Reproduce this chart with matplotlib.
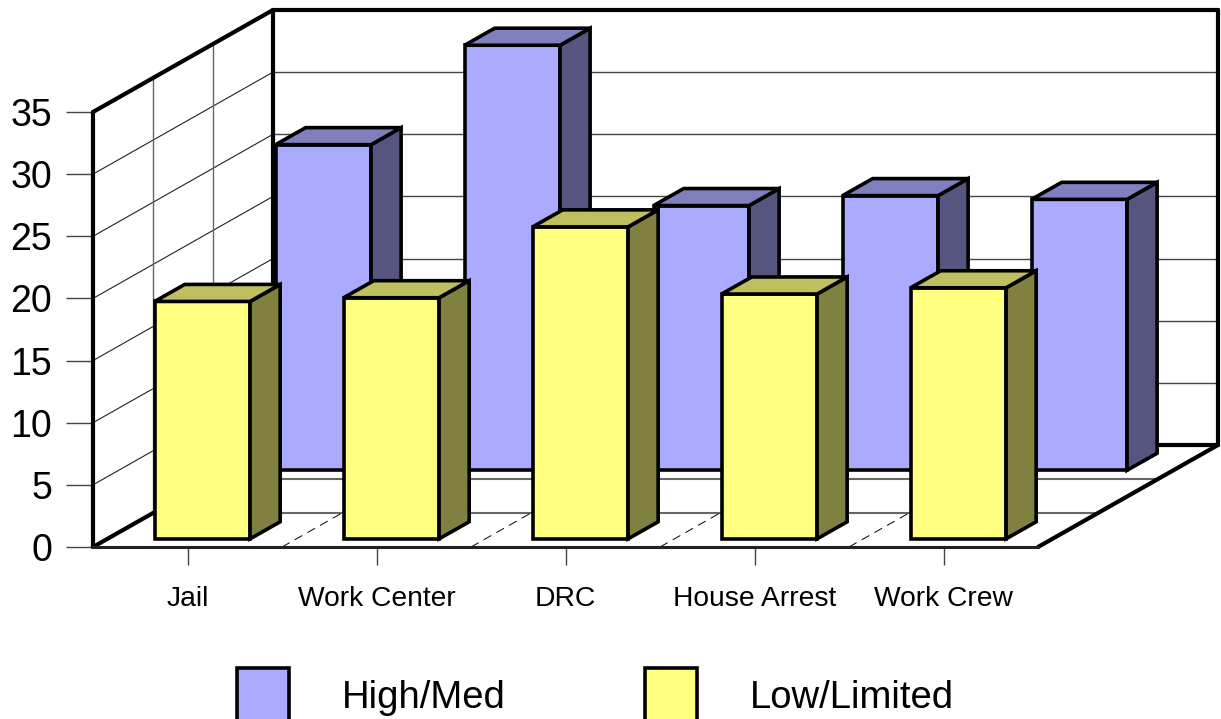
import matplotlib
matplotlib.use("Agg")
import matplotlib.pyplot as plt
from matplotlib.patches import Polygon, Patch, Rectangle
from matplotlib.legend_handler import HandlerPatch

plt.rcParams['font.family'] = ['Liberation Sans', 'DejaVu Sans']

categories = ["Jail", "Work Center", "DRC", "House Arrest", "Work Crew"]
high_med = [26.2, 34.2, 21.3, 22.1, 21.8]
low_limited = [19.1, 19.4, 25.1, 19.7, 20.2]
value_ticks = [0, 5, 10, 15, 20, 25, 30, 35]

W, H = 1221, 719
X0, X1, Y0, Y35 = 93, 1038, 547, 112
DEPTH_PX = (180, -102)

fig = plt.figure(figsize=(W / 100, H / 100), dpi=100, facecolor="white")
ax = fig.add_axes([X0 / W, 1 - Y0 / H, (X1 - X0) / W, (Y0 - Y35) / H])
ax.set_xlim(0, len(categories))
ax.set_ylim(0, 35)
ax.patch.set_visible(False)

# Oblique projection: depth 0 is the front plane, depth 1 the back wall.
cat_px = (X1 - X0) / len(categories)
val_px = (Y0 - Y35) / 35
dx = DEPTH_PX[0] / cat_px
dv = -DEPTH_PX[1] / val_px


def proj(x, v, d=0.0):
    return x + d * dx, v + d * dv


def line3d(p, q, **kw):
    a, b = proj(*p), proj(*q)
    ax.plot([a[0], b[0]], [a[1], b[1]], clip_on=False, solid_capstyle="round", **kw)


n = len(categories)
TOP = 35
thin = dict(color="#222222", lw=0.8, zorder=1)
heavy = dict(color="black", lw=3.0, zorder=2)

# Wall and floor gridlines
for v in value_ticks[1:]:
    line3d((0, v, 0), (0, v, 1), **thin)
    line3d((0, v, 1), (n, v, 1), color="#444444", lw=1.0, zorder=1)
for d in (1 / 3, 2 / 3):
    line3d((0, 0, d), (0, TOP, d), color="#666666", lw=1.0, zorder=1)
    line3d((0, 0, d), (n, 0, d), color="#666666", lw=1.5, zorder=1)
for k in range(1, n):
    a, b = proj(k, 0, 0), proj(k, 0, 1)
    ax.plot([a[0], b[0]], [a[1], b[1]], color="black", lw=0.7, dashes=(9, 6), zorder=1, clip_on=False)

# Wall and floor outline
line3d((0, 0, 0), (0, TOP, 0), **heavy)
line3d((0, 0, 0), (0, 0, 1), **heavy)
line3d((0, 0, 1), (0, TOP, 1), **heavy)
line3d((0, TOP, 0), (0, TOP, 1), **heavy)
line3d((0, TOP, 1), (n, TOP, 1), **heavy)
line3d((n, 0, 1), (n, TOP, 1), **heavy)
line3d((0, 0, 1), (n, 0, 1), **heavy)
line3d((n, 0, 0), (n, 0, 1), **heavy)
line3d((0, 0, 0), (n, 0, 0), color="#222222", lw=2.2, zorder=2)


def bar3d(center, value, depth, colors, z):
    front, side, top = colors
    half, thick = 0.2525, 0.167
    l, r = center - half + 0.0025, center + half + 0.0025
    d0, d1 = depth, depth + thick
    faces = [
        ([(l, 0, d0), (r, 0, d0), (r, value, d0), (l, value, d0)], front),
        ([(r, 0, d0), (r, 0, d1), (r, value, d1), (r, value, d0)], side),
        ([(l, value, d0), (r, value, d0), (r, value, d1), (l, value, d1)], top),
    ]
    for pts, col in faces:
        ax.add_patch(Polygon([proj(*p) for p in pts], closed=True, facecolor=col,
                             edgecolor="black", lw=2.6, joinstyle="miter",
                             zorder=z, clip_on=False))


BLUE = ("#AAAAFF", "#555580", "#8080BF")
YELLOW = ("#FFFF80", "#808040", "#BFBF60")
for i, v in enumerate(high_med):
    bar3d(i + 0.5, v, 0.752, BLUE, 3 + i * 0.01)
for i, v in enumerate(low_limited):
    bar3d(i + 0.5, v, 0.08, YELLOW, 4 + i * 0.01)

# Axes furniture
for s in ax.spines.values():
    s.set_visible(False)
ax.set_xticks([i + 0.5 for i in range(n)], categories, fontsize=20.3)
ax.set_yticks(value_ticks, [str(v) for v in value_ticks], fontsize=27)
ax.tick_params(axis="x", length=13, width=1.0, color="#444444", pad=15)
ax.tick_params(axis="y", length=19.5, width=1.0, color="#444444", pad=10)


# Legend swatches run off the lower edge of the figure
def tall_swatch(legend, orig_handle, xdescent, ydescent, width, height, fontsize):
    return Rectangle((-xdescent, -18), width, 47.5)


handles = [Patch(facecolor=BLUE[0], edgecolor="black", lw=2.6),
           Patch(facecolor=YELLOW[0], edgecolor="black", lw=2.6)]
fig.legend(handles, ["High/Med", "Low/Limited"], ncol=2, frameon=False, fontsize=27.5,
           loc="lower left", bbox_to_anchor=(237 / W, 0.0035), borderpad=0, borderaxespad=0,
           handlelength=1.36, handleheight=1.0, handletextpad=1.38, columnspacing=3.65,
           handler_map={Patch: HandlerPatch(patch_func=tall_swatch)})

fig.savefig("out.png", dpi=100, facecolor="white")
